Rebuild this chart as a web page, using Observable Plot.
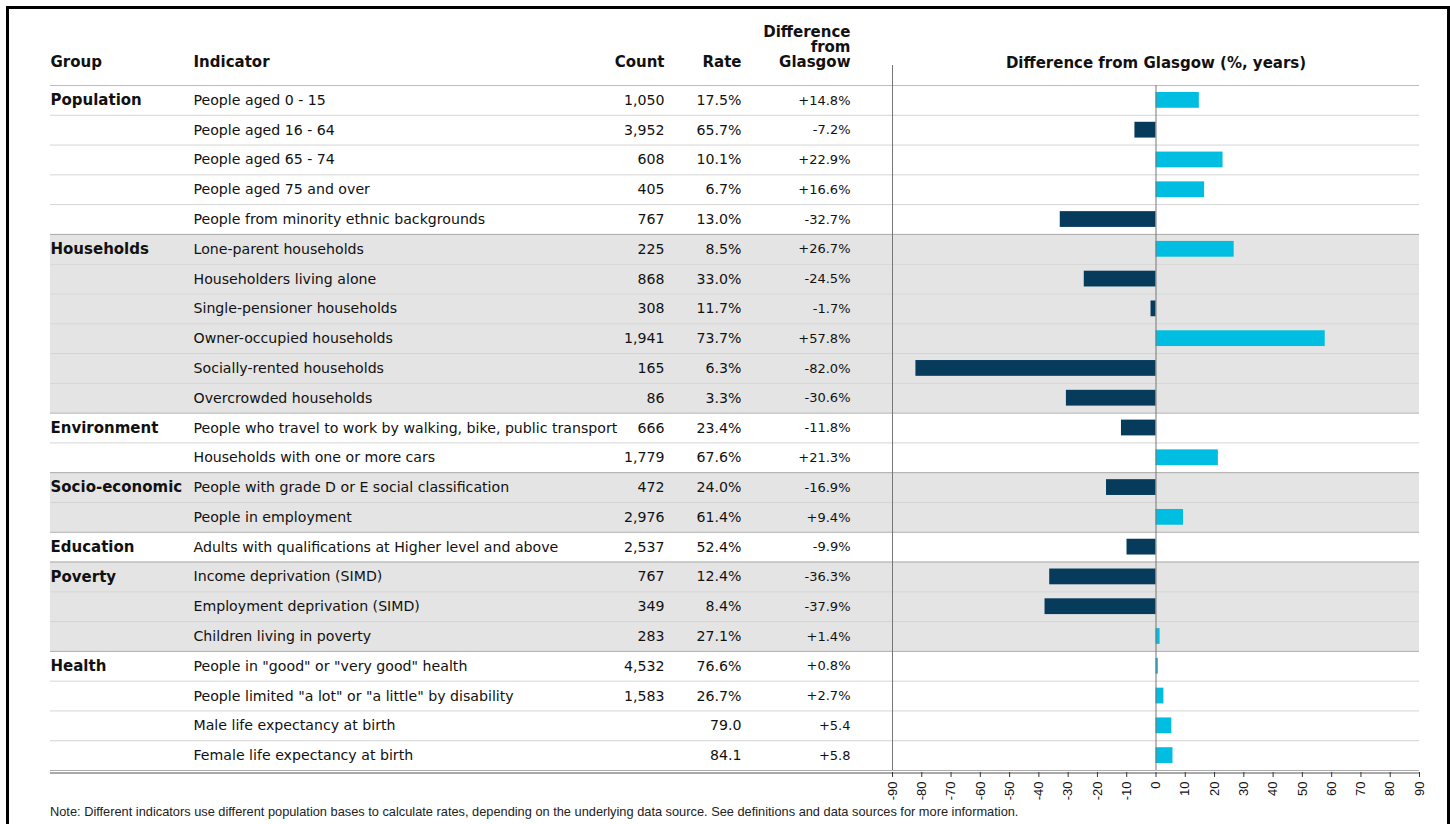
<!DOCTYPE html>
<html>
<head>
<meta charset="utf-8">
<script src="https://cdn.jsdelivr.net/npm/d3@7"></script>
<script src="https://cdn.jsdelivr.net/npm/@observablehq/plot@0.6"></script>
<style>
  html, body { margin: 0; padding: 0; background: #fff; }
  body { width: 1450px; height: 824px; overflow: hidden; position: relative; }
  #chart { position: absolute; left: 0; top: 0; }
  #frame { position: absolute; left: 6px; top: 6px; width: 1438px; height: 900px; border: 3px solid #000; z-index: 2; pointer-events: none; }
  #note { position: absolute; left: 50px; top: 804px; font-family: "Liberation Sans", Arial, sans-serif; font-size: 12.8px; color: #222; white-space: nowrap; }
  g[aria-label="x-axis tick label"] text { font-family: "Liberation Sans", Arial, sans-serif; font-size: 13px; fill: #111; }
</style>
</head>
<body>
<div id="chart"></div>
<div id="frame"></div>
<div id="note">Note: Different indicators use different population bases to calculate rates, depending on the underlying data source. See definitions and data sources for more information.</div>
<script>
// ---- data ----
const groups = [
  "Population","Population","Population","Population","Population",
  "Households","Households","Households","Households","Households","Households",
  "Environment","Environment",
  "Socio-economic","Socio-economic",
  "Education",
  "Poverty","Poverty","Poverty",
  "Health","Health","Health","Health"
];
const indicators = [
  "People aged 0 - 15",
  "People aged 16 - 64",
  "People aged 65 - 74",
  "People aged 75 and over",
  "People from minority ethnic backgrounds",
  "Lone-parent households",
  "Householders living alone",
  "Single-pensioner households",
  "Owner-occupied households",
  "Socially-rented households",
  "Overcrowded households",
  "People who travel to work by walking, bike, public transport",
  "Households with one or more cars",
  "People with grade D or E social classification",
  "People in employment",
  "Adults with qualifications at Higher level and above",
  "Income deprivation (SIMD)",
  "Employment deprivation (SIMD)",
  "Children living in poverty",
  "People in \"good\" or \"very good\" health",
  "People limited \"a lot\" or \"a little\" by disability",
  "Male life expectancy at birth",
  "Female life expectancy at birth"
];
const counts = [1050, 3952, 608, 405, 767, 225, 868, 308, 1941, 165, 86, 666, 1779, 472, 2976, 2537, 767, 349, 283, 4532, 1583, null, null];
const rates  = [17.5, 65.7, 10.1, 6.7, 13.0, 8.5, 33.0, 11.7, 73.7, 6.3, 3.3, 23.4, 67.6, 24.0, 61.4, 52.4, 12.4, 8.4, 27.1, 76.6, 26.7, 79.0, 84.1];
const units  = ["%","%","%","%","%","%","%","%","%","%","%","%","%","%","%","%","%","%","%","%","%","",""];
const diffs  = [14.8, -7.2, 22.9, 16.6, -32.7, 26.7, -24.5, -1.7, 57.8, -82.0, -30.6, -11.8, 21.3, -16.9, 9.4, -9.9, -36.3, -37.9, 1.4, 0.8, 2.7, 5.4, 5.8];
const diffUnits = ["%","%","%","%","%","%","%","%","%","%","%","%","%","%","%","%","%","%","%","%","%","",""];
const xTicks = [-90,-80,-70,-60,-50,-40,-30,-20,-10,0,10,20,30,40,50,60,70,80,90];
const headers = ["Group", "Indicator", "Count", "Rate", "Difference\nfrom\nGlasgow"];
const chartTitle = "Difference from Glasgow (%, years)";

// ---- build rows ----
const groupOrder = [...new Set(groups)];
const rows = indicators.map((ind, i) => ({
  group: groups[i],
  indicator: ind,
  count: counts[i],
  rate: rates[i],
  unit: units[i],
  diff: diffs[i],
  diffUnit: diffUnits[i],
  first: i === 0 || groups[i] !== groups[i - 1],
  last: i === indicators.length - 1 || groups[i] !== groups[i + 1],
  shaded: groupOrder.indexOf(groups[i]) % 2 === 1
}));

const fmtCount = d3.format(",");
const fmtDiff = (v, u) => (v >= 0 ? "+" : "") + v.toFixed(1) + u;

// ---- layout ----
const W = 1450, H = 824;
const tableTop = 85, tableBottom = 770;
const rowH = (tableBottom - tableTop) / indicators.length;
const posColor = "#00bee1", negColor = "#063b5c";
const ink = "#111";
const bodySize = 14.15;
const hdr = { fontWeight: "bold", fontSize: 15, fill: ink, lineAnchor: "middle", frameAnchor: "top-left" };

const plot = Plot.plot({
  width: W,
  height: H,
  marginLeft: 50,
  marginRight: 31,
  marginTop: tableTop,
  marginBottom: H - tableBottom - 2,
  style: { fontFamily: "'DejaVu Sans', sans-serif", fontSize: "14px", color: ink, background: "transparent", overflow: "visible" },
  x: { domain: [-90, 90], range: [892, 1419], axis: null },
  y: { type: "band", domain: indicators, range: [tableTop, tableBottom], padding: 0, round: false, axis: null },
  marks: [
    Plot.cell(rows.filter(d => d.shaded), { y: "indicator", fill: "#e4e4e4", inset: 0 }),
    Plot.ruleY(rows.filter(d => !d.last), { y: "indicator", dy: rowH / 2, stroke: "#d4d4d4", strokeWidth: 1 }),
    Plot.ruleY(rows.filter(d => d.last), { y: "indicator", dy: rowH / 2, stroke: "#ababab", strokeWidth: 1 }),
    Plot.ruleY(rows.slice(0, 1), { y: "indicator", dy: -rowH / 2, stroke: "#bdbdbd", strokeWidth: 1 }),
    Plot.ruleY(rows.slice(-1), { y: "indicator", dy: rowH / 2 + 2.5, stroke: "#555", strokeWidth: 1 }),
    Plot.barX(rows, {
      y: "indicator", x1: 0, x2: "diff",
      fill: d => d.diff >= 0 ? posColor : negColor,
      insetTop: 7, insetBottom: 7
    }),
    Plot.ruleX([-90], { stroke: "#777", strokeWidth: 1, insetTop: -20, insetBottom: 2 }),
    Plot.ruleX([0], { stroke: "#777", strokeWidth: 1, insetBottom: 2 }),
    Plot.axisX({ ticks: xTicks, tickSize: 5, tickPadding: 4, tickRotate: -90, tickFormat: d => String(d), stroke: "#333" }),
    Plot.text(rows.filter(d => d.first), { y: "indicator", text: "group", frameAnchor: "left", textAnchor: "start", fontWeight: "bold", fontSize: 15, fill: ink }),
    Plot.text(rows, { y: "indicator", text: "indicator", frameAnchor: "left", textAnchor: "start", dx: 143, fontSize: bodySize, fill: ink }),
    Plot.text(rows, { y: "indicator", text: d => d.count == null ? "" : fmtCount(d.count), frameAnchor: "left", textAnchor: "end", dx: 614, fontSize: bodySize, fill: ink }),
    Plot.text(rows, { y: "indicator", text: d => d.rate.toFixed(1) + d.unit, frameAnchor: "left", textAnchor: "end", dx: 691, fontSize: bodySize, fill: ink }),
    Plot.text(rows, { y: "indicator", text: d => fmtDiff(d.diff, d.diffUnit), frameAnchor: "left", textAnchor: "end", dx: 800, fontSize: 13, fill: ink }),
    Plot.text([headers[0]], { ...hdr, text: d => d, textAnchor: "start", dy: -23 }),
    Plot.text([headers[1]], { ...hdr, text: d => d, textAnchor: "start", dx: 143, dy: -23 }),
    Plot.text([headers[2]], { ...hdr, text: d => d, textAnchor: "end", dx: 614, dy: -23 }),
    Plot.text([headers[3]], { ...hdr, text: d => d, textAnchor: "end", dx: 691, dy: -23 }),
    Plot.text([headers[4]], { ...hdr, text: d => d, textAnchor: "end", dx: 800, dy: -38, lineHeight: 1 }),
    Plot.text([{ x: 0, t: chartTitle }], { ...hdr, x: "x", text: "t", frameAnchor: "top", textAnchor: "middle", dy: -22 })
  ]
});
document.getElementById("chart").appendChild(plot);
</script>
</body>
</html>
